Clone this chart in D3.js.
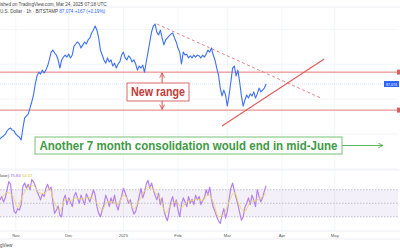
<html>
  <head>
    <style>
      body { margin: 0; background: #ffffff; }
      text { font-family: "Liberation Sans", "Noto Sans", sans-serif; }
    </style>
  </head>
  <body>
    <script src="https://d3js.org/d3.v7.min.js"></script>
    <div id="chart"></div>
    <script>
      // BTC / USD (in thousands), one value per day from 2024-10-23
      var start_date = new Date(2024, 9, 23);
      var end_date = new Date(2025, 5, 7);
      var price_k = [
        67.2, 67.9, 68.3, 68.9, 70.0, 70.7, 71.0, 70.3, 70.0, 68.9,
        68.3, 67.9, 66.9, 71.0, 74.5, 75.2, 75.8, 77.9, 80.0, 82.4,
        86.2, 89.0, 90.3, 89.6, 91.0, 90.0, 91.0, 92.4, 94.5, 97.2,
        97.9, 96.9, 96.2, 94.5, 91.7, 94.5, 95.5, 96.2, 95.5, 96.5,
        95.2, 96.2, 99.3, 100.0, 100.7, 100.0, 98.6, 99.7, 100.7, 100.0,
        101.4, 102.1, 103.8, 104.8, 106.2, 104.8, 102.1, 97.9, 96.2, 94.5,
        93.4, 95.2, 93.8, 94.5, 92.4, 93.4, 91.7, 93.1, 93.8, 96.2,
        97.2, 95.2, 94.5, 95.9, 95.2, 93.8, 94.5, 93.1, 91.0, 92.4,
        91.7, 92.7, 90.3, 93.8, 97.2, 100.7, 104.1, 106.2, 106.9, 104.1,
        103.1, 104.8, 102.1, 99.7, 101.4, 102.1, 102.8, 103.4, 103.8, 102.1,
        100.7, 98.6, 97.2, 93.1, 97.2, 96.2, 96.5, 95.2, 95.9, 95.2,
        96.2, 95.5, 96.2, 95.9, 95.2, 96.2, 95.5, 96.5, 97.9, 97.2,
        98.6, 96.2, 94.5, 91.7, 89.3, 84.8, 82.1, 84.1, 82.4, 78.6,
        82.4, 86.9, 91.7, 92.4, 89.0, 91.0, 86.9, 82.1, 78.6, 80.7,
        82.4, 81.4, 82.8, 82.1, 83.5, 81.4, 82.8, 84.8, 83.5, 84.1,
        84.8, 86.2
      ];
      // RSI 14, one value per day
      var rsi_vals = [
        55, 60, 52, 58, 70, 82, 78, 55, 38, 35,
        42, 40, 48, 75, 80, 72, 78, 70, 85, 82,
        76, 68, 62, 55, 64, 60, 72, 78, 70, 74,
        52, 35, 40, 46, 32, 30, 55, 62, 48, 58,
        52, 45, 60, 66, 58, 50, 62, 55, 48, 64,
        58, 52, 60, 70, 62, 45, 35, 30, 40, 48,
        62, 55, 45, 58, 50, 62, 48, 40, 52, 60,
        72, 66, 58, 50, 55, 42, 34, 38, 48, 60,
        72, 58, 66, 78, 84, 72, 80, 70, 62, 55,
        65, 48, 58, 40, 30, 24, 38, 52, 60, 45,
        55, 40, 30, 48, 58, 52, 45, 60, 50, 56,
        48, 62, 55, 60, 48, 54, 58, 70, 62, 74,
        56, 44, 38, 30, 24, 20, 32, 42, 28, 38,
        56, 72, 80, 68, 58, 48, 36, 25, 30, 44,
        50, 58, 48, 62, 55, 45, 70, 60, 52, 58,
        68, 75.84
      ];
      // RSI moving average, every 3 days starting on day 1
      var rsi_ma = [
        57, 66, 62, 44, 62, 74, 76, 66, 64, 72,
        50, 38, 56, 54, 58, 56, 58, 58, 50, 40,
        52, 52, 48, 62, 54, 42, 54, 68, 74, 66,
        56, 36, 48, 52, 44, 52, 54, 56, 54, 64,
        52, 30, 34, 52, 66, 46, 38, 52, 54, 58,
        64.07
      ];
      var month_ticks = [new Date(2024, 10, 1), new Date(2024, 11, 1), new Date(2025, 0, 1),
                         new Date(2025, 1, 1), new Date(2025, 2, 1), new Date(2025, 3, 1), new Date(2025, 4, 1)];
      var month_labels = ["Nov", "Dec", "2025", "Feb", "Mar", "Apr", "May"];
      var range_levels = [90.3, 77.2];
      var rsi_levels = [70, 50, 30];
      // drawn trend lines: [date, price]
      var down_trend = [[new Date(2025, 0, 20), 106.9], [new Date(2025, 3, 23), 81.4]];
      var up_trend = [[new Date(2025, 1, 26), 71.7], [new Date(2025, 3, 25), 94.8]];
      var range_arrow_date = new Date(2025, 0, 23);
      var last_price = 86.2;

      var w = 400;
      var h = 250;
      var svg = d3.select("#chart").append("svg")
        .attr("width", w)
        .attr("height", h);

      var x = d3.scaleTime().domain([start_date, end_date]).range([0, w]);
      var y = d3.scaleLinear().domain([110, 60]).range([15, 160]);
      var y_rsi = d3.scaleLinear().domain([100, 0]).range([169.5, 237]);
      var day = function(i){ return d3.timeDay.offset(start_date, i); };

      var defs = svg.append("defs");
      defs.append("clipPath").attr("id", "rsi_clip")
        .append("rect").attr("x", 0).attr("y", 171).attr("width", 398).attr("height", 60);
      function add_marker(id, color){
        defs.append("marker")
          .attr("id", id)
          .attr("viewBox", "0 0 10 10")
          .attr("refX", 9).attr("refY", 5)
          .attr("markerWidth", 6).attr("markerHeight", 6)
          .attr("markerUnits", "userSpaceOnUse")
          .attr("orient", "auto")
          .append("path")
          .attr("d", "M1,1 L9,5 L1,9")
          .attr("fill", "none")
          .attr("stroke", color)
          .attr("stroke-width", 1.4);
      }
      add_marker("red_head", "#d24a4a");
      add_marker("green_head", "#4caf50");

      // grid
      svg.selectAll(".vgrid")
        .data(month_ticks)
        .enter()
        .append("line")
        .attr("class", "vgrid")
        .attr("x1", function(d){ return x(d); })
        .attr("x2", function(d){ return x(d); })
        .attr("y1", 7).attr("y2", 231)
        .attr("stroke", "#f0f2f6").attr("stroke-width", 0.8);
      svg.selectAll(".hgrid")
        .data([105, 93, 81, 69, 57])
        .enter()
        .append("line")
        .attr("class", "hgrid")
        .attr("x1", 0).attr("x2", 398)
        .attr("y1", function(d){ return y(d); })
        .attr("y2", function(d){ return y(d); })
        .attr("stroke", "#f3f4f8").attr("stroke-width", 0.8);
      svg.selectAll(".border")
        .data([7, 170, 231, 239])
        .enter()
        .append("line")
        .attr("class", "border")
        .attr("x1", 0).attr("x2", w)
        .attr("y1", function(d){ return d; })
        .attr("y2", function(d){ return d; })
        .attr("stroke", "#e6e8ee").attr("stroke-width", 0.7);

      // header
      svg.append("text").attr("x", 0).attr("y", 5.5)
        .attr("font-size", 4.6).attr("fill", "#444")
        .text("ished on TradingView.com, Mar 24, 2025 07:18 UTC");
      var sub = svg.append("text").attr("x", 0).attr("y", 12.5)
        .attr("font-size", 4.6).attr("fill", "#444");
      sub.append("tspan").text("U.S. Dollar · 1h · BITSTAMP ");
      sub.append("tspan").attr("fill", "#2962ff").text(" 87,074  +167 (+0.19%)");

      // last price line and tag
      svg.append("line")
        .attr("x1", 0).attr("x2", 384)
        .attr("y1", y(last_price)).attr("y2", y(last_price))
        .attr("stroke", "#2962ff").attr("stroke-opacity", 0.25)
        .attr("stroke-width", 0.7).attr("stroke-dasharray", "1,1");
      svg.append("rect")
        .attr("x", 384).attr("y", y(last_price) - 3).attr("width", 15).attr("height", 6)
        .attr("fill", "#2962ff");
      svg.append("text")
        .attr("x", 391.5).attr("y", y(last_price) + 1.5)
        .attr("text-anchor", "middle").attr("font-size", 3.6).attr("fill", "#fff")
        .text("87,074");

      // range lines
      svg.selectAll(".range_line")
        .data(range_levels)
        .enter()
        .append("line")
        .attr("class", "range_line")
        .attr("x1", 0).attr("x2", 398)
        .attr("y1", function(d){ return y(d); })
        .attr("y2", function(d){ return y(d); })
        .attr("stroke", "#e06a6a").attr("stroke-width", 0.9);
      svg.selectAll(".range_tag")
        .data(range_levels)
        .enter()
        .append("rect")
        .attr("class", "range_tag")
        .attr("x", 397).attr("y", function(d){ return y(d) - 2.5; })
        .attr("width", 3).attr("height", 5)
        .attr("fill", "#df5f5f");

      // trend lines
      svg.append("line")
        .attr("x1", x(down_trend[0][0])).attr("y1", y(down_trend[0][1]))
        .attr("x2", x(down_trend[1][0])).attr("y2", y(down_trend[1][1]))
        .attr("stroke", "#e78585").attr("stroke-width", 1)
        .attr("stroke-dasharray", "3,2.5");
      svg.append("line")
        .attr("x1", x(up_trend[0][0])).attr("y1", y(up_trend[0][1]))
        .attr("x2", x(up_trend[1][0])).attr("y2", y(up_trend[1][1]))
        .attr("stroke", "#e05a5a").attr("stroke-width", 1.1);

      // price
      var price_line = d3.line()
        .x(function(d, i){ return x(day(i)); })
        .y(function(d){ return y(d); });
      svg.append("path")
        .datum(price_k)
        .attr("d", price_line)
        .attr("fill", "none")
        .attr("stroke", "#3d70f5")
        .attr("stroke-width", 1.1)
        .attr("stroke-linejoin", "round");

      // "New range" annotation
      var ax = x(range_arrow_date);
      svg.append("line")
        .attr("x1", ax).attr("x2", ax)
        .attr("y1", 83).attr("y2", y(range_levels[0]) + 0.8)
        .attr("stroke", "#d24a4a").attr("stroke-width", 1)
        .attr("marker-end", "url(#red_head)");
      svg.append("line")
        .attr("x1", ax).attr("x2", ax)
        .attr("y1", 101).attr("y2", y(range_levels[1]) - 0.8)
        .attr("stroke", "#d24a4a").attr("stroke-width", 1)
        .attr("marker-end", "url(#red_head)");
      svg.append("rect")
        .attr("x", 127).attr("y", 83).attr("width", 62).attr("height", 18)
        .attr("fill", "#fff").attr("stroke", "#d96a6a").attr("stroke-width", 1);
      svg.append("text")
        .attr("x", 158).attr("y", 96)
        .attr("text-anchor", "middle")
        .attr("font-size", 12.5).attr("font-weight", "bold")
        .attr("fill", "#c33b3b")
        .attr("textLength", 54).attr("lengthAdjust", "spacingAndGlyphs")
        .text("New range");

      // consolidation annotation
      svg.append("line")
        .attr("x1", 342).attr("x2", 383)
        .attr("y1", 145.5).attr("y2", 145.5)
        .attr("stroke", "#5cb85c").attr("stroke-width", 1)
        .attr("marker-end", "url(#green_head)");
      svg.append("rect")
        .attr("x", 35).attr("y", 137).attr("width", 307).attr("height", 17)
        .attr("fill", "#fff").attr("stroke", "#77c177").attr("stroke-width", 1);
      svg.append("text")
        .attr("x", 188.5).attr("y", 149.5)
        .attr("text-anchor", "middle")
        .attr("font-size", 12).attr("font-weight", "bold")
        .attr("fill", "#3e9a44")
        .attr("textLength", 298).attr("lengthAdjust", "spacingAndGlyphs")
        .text("Another 7 month consolidation would end in mid-June");

      // RSI pane
      svg.append("rect")
        .attr("x", 0).attr("width", 398)
        .attr("y", y_rsi(70)).attr("height", y_rsi(30) - y_rsi(70))
        .attr("fill", "#7e57c2").attr("fill-opacity", 0.09);
      svg.selectAll(".rsi_level")
        .data(rsi_levels)
        .enter()
        .append("line")
        .attr("class", "rsi_level")
        .attr("x1", 0).attr("x2", 398)
        .attr("y1", function(d){ return y_rsi(d); })
        .attr("y2", function(d){ return y_rsi(d); })
        .attr("stroke", "#9a9ca6").attr("stroke-width", 0.6)
        .attr("stroke-dasharray", "1.5,1.5");
      var rsi_line = d3.line()
        .x(function(d, i){ return x(day(i)); })
        .y(function(d){ return y_rsi(d); });
      svg.append("path")
        .datum(rsi_vals)
        .attr("d", rsi_line)
        .attr("clip-path", "url(#rsi_clip)")
        .attr("fill", "none")
        .attr("stroke", "#b482ea")
        .attr("stroke-width", 1.2)
        .attr("stroke-linejoin", "round");
      var ma_line = d3.line()
        .x(function(d, i){ return x(day(1 + i * 3)); })
        .y(function(d){ return y_rsi(d); })
        .curve(d3.curveMonotoneX);
      svg.append("path")
        .datum(rsi_ma)
        .attr("d", ma_line)
        .attr("clip-path", "url(#rsi_clip)")
        .attr("fill", "none")
        .attr("stroke", "#ecd860")
        .attr("stroke-width", 0.9);
      var leg = svg.append("text").attr("x", 0).attr("y", 177)
        .attr("font-size", 4.2).attr("fill", "#444");
      leg.append("tspan").text("lose) ");
      leg.append("tspan").attr("fill", "#9c5ee0").text(" 75.84 ");
      leg.append("tspan").attr("fill", "#d8c23a").text(" 64.07");

      // time axis labels
      svg.selectAll(".month_label")
        .data(month_ticks)
        .enter()
        .append("text")
        .attr("class", "month_label")
        .attr("x", function(d){ return x(d); })
        .attr("y", 237)
        .attr("text-anchor", "middle")
        .attr("font-size", 4.2).attr("fill", "#555")
        .text(function(d, i){ return month_labels[i]; });
      svg.append("text").attr("x", 0).attr("y", 246.5)
        .attr("font-size", 4.6).attr("fill", "#444")
        .text("gView");
    </script>
  </body>
</html>
